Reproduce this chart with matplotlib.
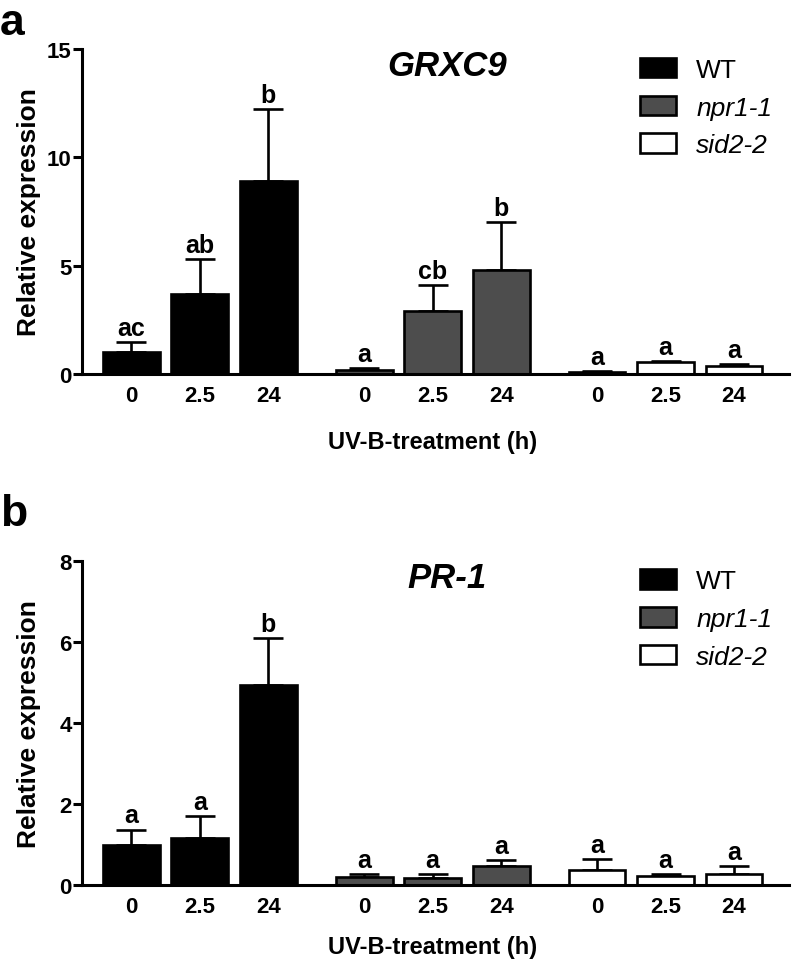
import matplotlib
matplotlib.use('Agg')
import matplotlib.pyplot as plt
import matplotlib.patches as patches
import numpy as np

plt.rcParams['font.family'] = ['Liberation Sans', 'DejaVu Sans']

# ── Data ──
times = ['0', '2.5', '24']
genotypes = ['WT', 'npr1-1', 'sid2-2']
geno_colors = ['#000000', '#4d4d4d', '#ffffff']
geno_style = ['normal', 'italic', 'italic']

# panel a: GRXC9
grxc9_mean = [1.0, 3.7, 8.9,   0.2, 2.9, 4.8,   0.1, 0.55, 0.37]
grxc9_err = [0.47, 1.6, 3.35,  0.07, 1.2, 2.2,  0.05, 0.05, 0.08]
grxc9_letters = ['ac', 'ab', 'b', 'a', 'cb', 'b', 'a', 'a', 'a']

# panel b: PR-1
pr1_mean = [1.0, 1.15, 4.94,   0.19, 0.17, 0.47,   0.37, 0.23, 0.27]
pr1_err = [0.37, 0.55, 1.15,   0.08, 0.09, 0.14,   0.27, 0.04, 0.2]
pr1_letters = ['a', 'a', 'b', 'a', 'a', 'a', 'a', 'a', 'a']

# bar positions: 3 groups with a wider gap between genotypes
pos = np.concatenate([np.arange(3) + g * 3.4 for g in range(3)])
bar_w = 0.83

fig = plt.figure(figsize=(7.92, 9.62), dpi=100)
ax_a = fig.add_axes([0.1035, 0.6102, 0.8925, 0.3378])
ax_b = fig.add_axes([0.1035, 0.0790, 0.8925, 0.3368])


def draw_panel(ax, means, errs, letters, ymax, yticks, title, xlab_y, leg_y):
    colors = [c for c in geno_colors for _ in times]
    ax.bar(pos, means, width=bar_w, color=colors, edgecolor='black',
           linewidth=1.9, zorder=2)
    ax.errorbar(pos, means, yerr=[np.zeros(len(errs)), errs], fmt='none',
                ecolor='black', elinewidth=1.9, capsize=10.5, capthick=1.9,
                zorder=1)
    for x, m, e, lt in zip(pos, means, errs, letters):
        ax.annotate(lt, (x, m + e), xytext=(0, 1.5), textcoords='offset points',
                    ha='center', va='bottom', fontsize=18, fontweight='bold')

    ax.set_xlim(-0.72, 9.6)
    ax.set_ylim(0, ymax)
    ax.set_yticks(yticks)
    ax.set_xticks(pos)
    ax.set_xticklabels(times * 3)
    for s in ['top', 'right']:
        ax.spines[s].set_visible(False)
    for s in ['left', 'bottom']:
        ax.spines[s].set_linewidth(2.2)
    ax.spines['left'].set_bounds(0, ymax)
    ax.tick_params(axis='y', length=6.5, width=2.2, pad=1, labelsize=16)
    ax.tick_params(axis='x', length=0, pad=8, labelsize=16)
    for lab in ax.get_xticklabels() + ax.get_yticklabels():
        lab.set_fontweight('bold')

    ax.set_ylabel('Relative expression', fontsize=19, fontweight='bold')
    ax.yaxis.set_label_coords(-0.058, 0.5)
    ax.set_xlabel('UV-B-treatment (h)', fontsize=17, fontweight='bold',
                  va='top')
    ax.xaxis.set_label_coords(0.496, xlab_y)

    ax.text(0.516, 0.948, title, transform=ax.transAxes, fontsize=25,
            fontweight='bold', fontstyle='italic', ha='center', va='center')

    handles = [patches.Patch(facecolor=c, edgecolor='black', linewidth=1.9)
               for c in geno_colors]
    leg = ax.legend(handles, genotypes, loc='upper left',
                    bbox_to_anchor=(0.79, leg_y), frameon=False, fontsize=19,
                    handlelength=1.36, handleheight=0.76, handletextpad=0.76,
                    labelspacing=0.52, borderpad=0, borderaxespad=0)
    for t, st in zip(leg.get_texts(), geno_style):
        t.set_fontstyle(st)


draw_panel(ax_a, grxc9_mean, grxc9_err, grxc9_letters, 15, [0, 5, 10, 15],
           'GRXC9', -0.172, 0.973)
draw_panel(ax_b, pr1_mean, pr1_err, pr1_letters, 8, [0, 2, 4, 6, 8],
           'PR-1', -0.155, 0.974)

fig.text(0.0, 0.997, 'a', fontsize=32, fontweight='bold', ha='left', va='top')
fig.text(0.0, 0.487, 'b', fontsize=32, fontweight='bold', ha='left', va='top')

fig.savefig('out.png', dpi=100, facecolor='white')
